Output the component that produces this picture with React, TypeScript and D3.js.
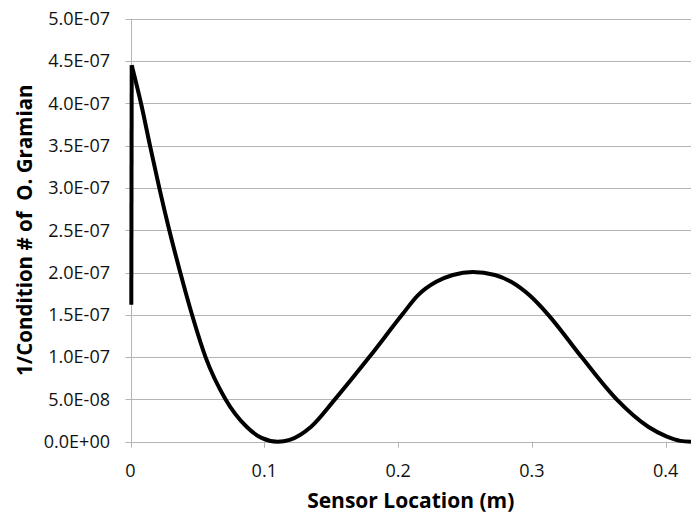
import React from "react";
import * as d3 from "d3";

const W = 691;
const H = 517;

// Sensor location (m)
const xValues: number[] = [
  0.0006, 0.0009, 0.00785, 0.01457, 0.02152, 0.029, 0.0372, 0.046, 0.0561, 0.0711,
  0.0868, 0.098, 0.11, 0.119, 0.135, 0.1528, 0.1785, 0.203, 0.2148, 0.2285, 0.241,
  0.2558, 0.2724, 0.2845, 0.2983, 0.3123, 0.3372, 0.3634, 0.387, 0.401, 0.411, 0.419,
];
// 1/Condition # of O. Gramian
const yValues: number[] = [
  1.62e-7, 4.45e-7, 4.0e-7, 3.5e-7, 3.0e-7, 2.5e-7, 2.0e-7, 1.5e-7, 1.0e-7, 0.5e-7,
  0.177e-7, 0.045e-7, 0.0, 0.022e-7, 0.177e-7, 0.5e-7, 1.0e-7, 1.5e-7, 1.73e-7, 1.89e-7, 1.97e-7,
  2.005e-7, 1.97e-7, 1.89e-7, 1.73e-7, 1.5e-7, 1.0e-7, 0.5e-7, 0.177e-7, 0.06e-7, 0.01e-7, 0.0,
];

const xTicks: number[] = [0, 0.1, 0.2, 0.3, 0.4];
const yTicks: number[] = [0, 5e-8, 1e-7, 1.5e-7, 2e-7, 2.5e-7, 3e-7, 3.5e-7, 4e-7, 4.5e-7, 5e-7];

const xTitle = "Sensor Location (m)";
const yTitle = "1/Condition # of  O. Gramian";

const fmtY = (v: number): string => {
  if (v === 0) return "0.0E+00";
  const e = Math.floor(Math.log10(Math.abs(v)) + 1e-9);
  const m = v / Math.pow(10, e);
  return m.toFixed(1) + "E" + (e < 0 ? "-" : "+") + String(Math.abs(e)).padStart(2, "0");
};

export default function App() {
  const left = 130.5;
  const right = 691;
  const top = 18.7;
  const bottom = 441.7;
  const x = d3.scaleLinear().domain([0, 0.419]).range([left, right]);
  const y = d3.scaleLinear().domain([0, 5e-7]).range([bottom, top]);

  const pts: [number, number][] = xValues.map((v, i) => [v, yValues[i]]);
  const startSeg = d3
    .line<[number, number]>()
    .x((d) => x(d[0]))
    .y((d) => y(d[1]))(pts.slice(0, 2)) as string;
  const mainSeg = d3
    .line<[number, number]>()
    .x((d) => x(d[0]))
    .y((d) => y(d[1]))
    .curve(d3.curveMonotoneX)(pts.slice(1)) as string;

  const font = "'Open Sans', 'DejaVu Sans', sans-serif";
  const grid = "#b4b4b4";

  return (
    <svg
      width={W}
      height={H}
      style={{ position: "absolute", left: 0, top: 0, background: "#fff" }}
    >
      <rect x={0} y={0} width={W} height={H} fill="#fff" />
      {yTicks.map((t) => (
        <line
          key={"g" + t}
          x1={left - 5}
          x2={right}
          y1={Math.round(y(t)) + 0.5}
          y2={Math.round(y(t)) + 0.5}
          stroke={grid}
          strokeWidth={1}
        />
      ))}
      <line x1={Math.round(left) + 0.5} x2={Math.round(left) + 0.5} y1={top} y2={bottom} stroke={grid} />
      {xTicks.map((t) => (
        <line
          key={"xt" + t}
          x1={Math.round(x(t)) + 0.5}
          x2={Math.round(x(t)) + 0.5}
          y1={bottom}
          y2={bottom + 6}
          stroke={grid}
        />
      ))}
      {yTicks.map((t) => (
        <text
          key={"yl" + t}
          x={110}
          y={y(t)}
          dy="0.35em"
          textAnchor="end"
          fontFamily={font}
          fontSize={18}
          fill="#111"
        >
          {fmtY(t)}
        </text>
      ))}
      {xTicks.map((t) => (
        <text
          key={"xl" + t}
          x={x(t)}
          y={477}
          textAnchor="middle"
          fontFamily={font}
          fontSize={18}
          fill="#111"
        >
          {String(t)}
        </text>
      ))}
      <path d={startSeg} fill="none" stroke="#000" strokeWidth={4} strokeLinecap="butt" />
      <path d={mainSeg} fill="none" stroke="#000" strokeWidth={4} strokeLinejoin="round" />
      <text
        x={(left + right) / 2}
        y={508}
        textAnchor="middle"
        fontFamily={font}
        fontWeight="bold"
        fontSize={21}
        fill="#000"
      >
        {xTitle}
      </text>
      <text
        transform={`translate(32, ${(top + bottom) / 2}) rotate(-90)`}
        textAnchor="middle"
        fontFamily={font}
        fontWeight="bold"
        fontSize={20.5}
        fill="#000"
        style={{ whiteSpace: "pre" }}
      >
        {yTitle}
      </text>
    </svg>
  );
}
